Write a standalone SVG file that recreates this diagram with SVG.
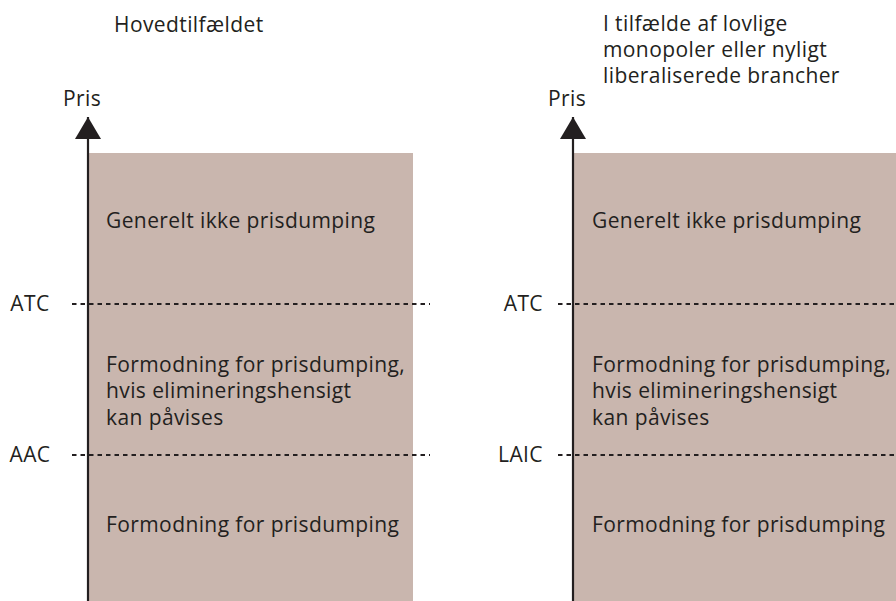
<svg xmlns="http://www.w3.org/2000/svg" width="896" height="601" viewBox="0 0 896 601">
  <style>
    .t { font-family: "Open Sans", "Noto Sans", sans-serif; font-size: 21px; letter-spacing: 0.4px; fill: #231f20; }
    .band { fill: #c9b6ae; }
    .axis { stroke: #231f20; stroke-width: 2.2; fill: none; }
    .dash { stroke: #231f20; stroke-width: 1.8; stroke-dasharray: 4.5 4; fill: none; }
  </style>
  <defs>
    <!-- arrowhead drawn along +x so orient="auto" points it along the axis -->
    <marker id="head" viewBox="0 0 22 26" refX="22" refY="13" markerWidth="22" markerHeight="26" markerUnits="userSpaceOnUse" orient="auto">
      <path d="M0,0 L22,13 L0,26 Z" fill="#231f20"/>
    </marker>
  </defs>
  <rect width="896" height="601" fill="#ffffff"/>

  <!-- Left panel: general case -->
  <g id="left-panel">
    <text class="t" x="114" y="32">Hovedtilfældet</text>
    <rect class="band" x="89" y="153" width="324" height="448"/>
    <text class="t" x="106" y="228">Generelt ikke prisdumping</text>
    <text class="t" x="106" y="372">Formodning for prisdumping,</text>
    <text class="t" x="106" y="398">hvis elimineringshensigt</text>
    <text class="t" x="106" y="425">kan påvises</text>
    <text class="t" x="106" y="532">Formodning for prisdumping</text>
    <text class="t" x="82" y="106" text-anchor="middle">Pris</text>
    <text class="t" x="30" y="311" text-anchor="middle">ATC</text>
    <text class="t" x="30" y="462" text-anchor="middle">AAC</text>
  </g>

  <!-- Right panel: legal monopolies / newly liberalised sectors -->
  <g id="right-panel">
    <text class="t" x="603" y="31">I tilfælde af lovlige</text>
    <text class="t" x="603" y="57">monopoler eller nyligt</text>
    <text class="t" x="603" y="83">liberaliserede brancher</text>
    <rect class="band" x="574" y="153" width="322" height="448"/>
    <text class="t" x="592" y="228">Generelt ikke prisdumping</text>
    <text class="t" x="592" y="372">Formodning for prisdumping,</text>
    <text class="t" x="592" y="398">hvis elimineringshensigt</text>
    <text class="t" x="592" y="425">kan påvises</text>
    <text class="t" x="592" y="532">Formodning for prisdumping</text>
    <text class="t" x="567" y="106" text-anchor="middle">Pris</text>
    <text class="t" x="543" y="311" text-anchor="end">ATC</text>
    <text class="t" x="543" y="462" text-anchor="end">LAIC</text>
  </g>

  <!-- Axes and threshold lines -->
  <g id="connectors">
    <line class="axis" x1="88" y1="601" x2="88" y2="117" marker-end="url(#head)"/>
    <line class="axis" x1="573" y1="601" x2="573" y2="117" marker-end="url(#head)"/>
    <line class="dash" x1="72" y1="304" x2="430" y2="304"/>
    <line class="dash" x1="72" y1="455" x2="430" y2="455"/>
    <line class="dash" x1="558" y1="304" x2="896" y2="304"/>
    <line class="dash" x1="558" y1="455" x2="896" y2="455"/>
  </g>
</svg>
